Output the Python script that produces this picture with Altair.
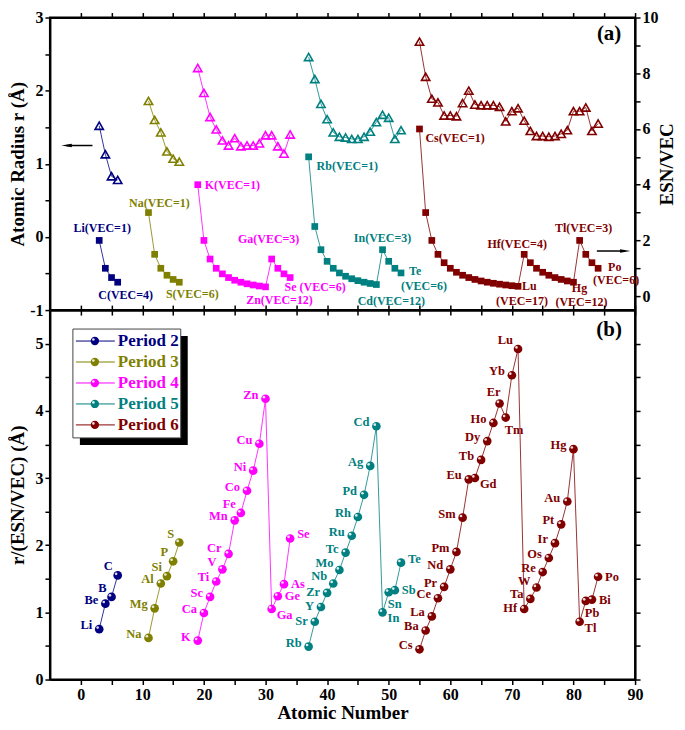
import altair as alt
import pandas as pd

FONT = "Liberation Serif"

periods = ["Period 2", "Period 3", "Period 4", "Period 5", "Period 6"]
colors = ["#000080", "#808000", "#FF00FF", "#008080", "#800000"]

# ---- data ----
p2_sym = ["Li", "Be", "B", "C"]
p2_z = [3, 4, 5, 6]
p2_r = [1.52, 1.13, 0.83, 0.78]
p2_ev = [2.0, 1.0, 0.667, 0.5]
p2_ratio = [0.75, 1.13, 1.23, 1.55]

p3_sym = ["Na", "Mg", "Al", "Si", "P", "S"]
p3_z = [11, 12, 13, 14, 15, 16]
p3_r = [1.86, 1.60, 1.43, 1.17, 1.07, 1.03]
p3_ev = [3.0, 1.5, 1.0, 0.75, 0.6, 0.5]
p3_ratio = [0.62, 1.06, 1.43, 1.54, 1.76, 2.04]

p4_sym = ["K", "Ca", "Sc", "Ti", "V", "Cr", "Mn", "Fe", "Co", "Ni", "Cu", "Zn",
          "Ga", "Ge", "As", "Se"]
p4_z = list(range(19, 35))
p4_r = [2.31, 1.97, 1.64, 1.47, 1.32, 1.25, 1.35, 1.24, 1.25, 1.25, 1.28, 1.39,
        1.39, 1.24, 1.14, 1.40]
p4_ev = [4.0, 2.0, 1.333, 1.0, 0.8, 0.667, 0.571, 0.5, 0.444, 0.4, 0.364, 0.333,
         1.333, 1.0, 0.8, 0.667]
p4_ratio = [0.58, 0.99, 1.23, 1.46, 1.64, 1.87, 2.37, 2.48, 2.81, 3.11, 3.51, 4.18,
            1.05, 1.24, 1.42, 2.10]

p5_sym = ["Rb", "Sr", "Y", "Zr", "Nb", "Mo", "Tc", "Ru", "Rh", "Pd", "Ag", "Cd",
          "In", "Sn", "Sb", "Te"]
p5_z = list(range(37, 53))
p5_r = [2.46, 2.16, 1.82, 1.61, 1.43, 1.37, 1.36, 1.34, 1.34, 1.37, 1.44, 1.57,
        1.67, 1.63, 1.34, 1.46]
p5_ev = [5.0, 2.5, 1.667, 1.25, 1.0, 0.833, 0.714, 0.625, 0.556, 0.5, 0.455, 0.417,
         1.667, 1.25, 1.0, 0.833]
p5_ratio = [0.49, 0.86, 1.08, 1.29, 1.43, 1.63, 1.89, 2.14, 2.42, 2.75, 3.18, 3.77,
            1.00, 1.30, 1.33, 1.74]

p6_sym = ["Cs", "Ba", "La", "Ce", "Pr", "Nd", "Pm", "Sm", "Eu", "Gd", "Tb", "Dy",
          "Ho", "Er", "Tm", "Yb", "Lu", "Hf", "Ta", "W", "Re", "Os", "Ir", "Pt",
          "Au", "Hg", "Tl", "Pb", "Bi", "Po"]
p6_z = list(range(55, 85))
p6_r = [2.67, 2.19, 1.89, 1.84, 1.66, 1.66, 1.65, 1.83, 2.00, 1.81, 1.80, 1.80,
        1.80, 1.78, 1.58, 1.72, 1.76, 1.59, 1.45, 1.38, 1.38, 1.37, 1.38, 1.41,
        1.46, 1.72, 1.72, 1.77, 1.45, 1.55]
p6_ev = [6.0, 3.0, 2.0, 1.5, 1.2, 1.0, 0.857, 0.75, 0.667, 0.6, 0.545, 0.5,
         0.462, 0.429, 0.4, 0.375, 0.353, 1.5, 1.2, 1.0, 0.857, 0.75, 0.667, 0.6,
         0.545, 0.5, 2.0, 1.5, 1.2, 1.0]
p6_ratio = [0.45, 0.73, 0.94, 1.21, 1.38, 1.64, 1.90, 2.41, 2.98, 3.00, 3.27, 3.55,
            3.82, 4.11, 3.90, 4.53, 4.92, 1.05, 1.20, 1.37, 1.60, 1.81, 2.03, 2.31,
            2.65, 3.43, 0.86, 1.17, 1.19, 1.53]

groups = [
    (p2_sym, p2_z, p2_r, p2_ev, p2_ratio),
    (p3_sym, p3_z, p3_r, p3_ev, p3_ratio),
    (p4_sym, p4_z, p4_r, p4_ev, p4_ratio),
    (p5_sym, p5_z, p5_r, p5_ev, p5_ratio),
    (p6_sym, p6_z, p6_r, p6_ev, p6_ratio),
]
rows = []
for per, (s, z, r, ev, ra) in zip(periods, groups):
    for i in range(len(s)):
        rows.append(dict(period=per, sym=s[i], z=z[i], r=r[i], ev=ev[i], ratio=ra[i]))
df = pd.DataFrame(rows)
color_of = dict(zip(periods, colors))

# label placement for panel (b) (style only): align, dx, dy
placements = {
    "L": ("right", -7, -4),
    "L1": ("right", -7, -1),
    "L5": ("right", -7, -5),
    "L6": ("right", -7, -6),
    "L7": ("right", -6, -7),
    "UL": ("right", -5, -9),
    "R": ("left", 7, 0),
    "RU": ("left", 7, -4),
    "RB": ("left", 5, 6),
    "BR": ("left", -1, 12),
    "U": ("center", -6, -11),
}
place_of = {"B": "UL", "C": "UL", "Si": "UL", "P": "UL", "S": "UL", "Fe": "UL",
            "V": "L7", "Cr": "L6",
            "Ga": "RB", "Ge": "R", "As": "R", "Se": "RU", "In": "RB",
            "Sn": "BR", "Sb": "R", "Te": "RU", "Gd": "RB", "Er": "U", "Tm": "BR",
            "Lu": "UL", "Hf": "L1", "Ta": "L5", "W": "L7", "Re": "L", "Os": "L",
            "Tl": "RB", "Pb": "BR", "Bi": "R", "Po": "R",
            "Sr": "L1", "Y": "L1", "Zr": "L1", "Nb": "L7", "Mo": "L7"}
df["place"] = [place_of.get(s, "L") for s in df.sym]

# ---- styling / layout ----
W, H1, H2 = 586, 293, 370
xs = alt.Scale(domain=[-5, 90], nice=False, zero=False)
ys_r = alt.Scale(domain=[-1, 3], nice=False, zero=False)
ys_ev = alt.Scale(domain=[-0.5, 10], nice=False, zero=False)
ys_b = alt.Scale(domain=[0, 5.5], nice=False, zero=False)
cscale = alt.Scale(domain=periods, range=colors)

INT_LABEL = "datum.value % 1 == 0 ? '' + datum.value : ''"
xvals = list(range(0, 95, 5))
ax_x_bottom_a = alt.Axis(values=xvals, labels=False, title=None, orient="bottom")
ax_x_top = alt.Axis(values=xvals, labels=False, title=None, orient="top")
ax_x_bottom_b = alt.Axis(values=xvals, title="Atomic Number", orient="bottom",
                         labelExpr="datum.value % 10 == 0 ? datum.label : ''",
                         labelOverlap=False, labelFlush=False, titlePadding=1)
ax_y_r = alt.Axis(values=[-1, -0.5, 0, 0.5, 1, 1.5, 2, 2.5, 3], title="Atomic Radius r (Å)",
                  labelExpr=INT_LABEL, labelOverlap=False,
                  labelFlush=False, titleX=-32, titleBaseline="middle")
ax_y_ev = alt.Axis(values=list(range(0, 11)), title="ESN/VEC", orient="right",
                   labelExpr="datum.value % 2 == 0 ? '' + datum.value : ''", labelOverlap=False,
                   labelFlush=False, titleAngle=270, titleX=31, titleBaseline="middle")
ax_y_b = alt.Axis(values=[0, 0.5, 1, 1.5, 2, 2.5, 3, 3.5, 4, 4.5, 5], title="r/(ESN/VEC) (Å)",
                  labelExpr=INT_LABEL, labelOverlap=False,
                  labelFlush=False, titleX=-32, titleBaseline="middle")
ax_y_b_right = alt.Axis(values=[0, 0.5, 1, 1.5, 2, 2.5, 3, 3.5, 4, 4.5, 5], title=None,
                        labels=False, orient="right")

base = alt.Chart(df)
col_nolegend = alt.Color("period:N", scale=cscale, legend=None)

# ================= panel (a) =================
xa = alt.X("z:Q", scale=xs, axis=ax_x_bottom_a)
ya = alt.Y("r:Q", scale=ys_r, axis=ax_y_r)

tri_line = base.mark_line(strokeWidth=0.8).encode(x=xa, y=ya, color=col_nolegend)
tri_pts = base.mark_point(shape="triangle-up", filled=False, size=70, strokeWidth=1.6,
                          opacity=1).encode(x=xa, y=ya, color=col_nolegend)

arrow_l = pd.DataFrame({"x1": [1.9], "x2": [-2.3], "y": [1.25]})
arr_l_rule = alt.Chart(arrow_l).mark_rule(color="black", strokeWidth=1.5).encode(
    x=alt.X("x1:Q", scale=xs, axis=ax_x_bottom_a), x2="x2:Q",
    y=alt.Y("y:Q", scale=ys_r, axis=ax_y_r))
arr_l_head = alt.Chart(arrow_l).mark_point(shape="M-1,0L1,-0.35L1,0.35Z", filled=True,
                                           size=110, color="black", opacity=1).encode(
    x=alt.X("x2:Q", scale=xs, axis=ax_x_bottom_a), y=alt.Y("y:Q", scale=ys_r, axis=ax_y_r))

lab_a = alt.Chart(pd.DataFrame({"t": ["(a)"]})).mark_text(
    font=FONT, fontSize=21, fontWeight="bold", align="center", baseline="middle").encode(
    x=alt.value(W - 26), y=alt.value(17), text="t:N")

left_group = alt.layer(tri_line, tri_pts, arr_l_rule, arr_l_head, lab_a)

xa_t = alt.X("z:Q", scale=xs, axis=ax_x_top)
yev = alt.Y("ev:Q", scale=ys_ev, axis=ax_y_ev)
sq_line = base.mark_line(strokeWidth=0.8).encode(x=xa_t, y=yev, color=col_nolegend)
sq_pts = base.mark_square(size=45, opacity=1).encode(x=xa_t, y=yev, color=col_nolegend)

arrow_r = pd.DataFrame({"x1": [83.8], "x2": [88.4], "y": [1.62]})
arr_r_rule = alt.Chart(arrow_r).mark_rule(color="black", strokeWidth=1.5).encode(
    x=alt.X("x1:Q", scale=xs, axis=ax_x_top), x2="x2:Q",
    y=alt.Y("y:Q", scale=ys_ev, axis=ax_y_ev))
arr_r_head = alt.Chart(arrow_r).mark_point(shape="M1,0L-1,-0.35L-1,0.35Z", filled=True,
                                           size=110, color="black", opacity=1).encode(
    x=alt.X("x2:Q", scale=xs, axis=ax_x_top), y=alt.Y("y:Q", scale=ys_ev, axis=ax_y_ev))

# annotations in panel (a): text, anchor element, dx, dy, align
ann_a = [
    ("Li(VEC=1)", "Li", 3, -12, "center"),
    ("C(VEC=4)", "C", 8, 13, "center"),
    ("Na(VEC=1)", "Na", 11, -10, "center"),
    ("S(VEC=6)", "S", 13, 12, "center"),
    ("K(VEC=1)", "K", 7, 0, "left"),
    ("Ga(VEC=3)", "Ga", -3, -20, "center"),
    ("Zn(VEC=12)", "Zn", 14, 13, "center"),
    ("Se (VEC=6)", "Se", 25, 9, "center"),
    ("Rb(VEC=1)", "Rb", 8, 9, "left"),
    ("In(VEC=3)", "In", 0, -12, "center"),
    ("Cd(VEC=12)", "Cd", 15, 16, "center"),
    ("Te", "Te", 8, -2, "left"),
    ("(VEC=6)", "Te", 23, 13, "center"),
    ("Cs(VEC=1)", "Cs", 6, 9, "left"),
    ("Hf(VEC=4)", "Hf", -7, -10, "center"),
    ("Lu", "Lu", 4, 0, "left"),
    ("(VEC=17)", "Lu", 4, 15, "center"),
    ("Tl(VEC=3)", "Tl", 4, -12, "center"),
    ("Hg", "Hg", 6, 6, "center"),
    ("(VEC=12)", "Hg", 8, 20, "center"),
    ("Po", "Po", 10, -1, "left"),
    ("(VEC=6)", "Po", 18, 12, "center"),
]
ann_layers = []
for text, el, dx, dy, al in ann_a:
    row = df[df.sym == el].iloc[0]
    d = pd.DataFrame({"z": [row.z], "ev": [row.ev], "t": [text]})
    ann_layers.append(
        alt.Chart(d).mark_text(font=FONT, fontSize=12, fontWeight="bold", dx=dx, dy=dy,
                               align=al, baseline="middle", color=color_of[row.period])
        .encode(x=xa_t, y=yev, text="t:N"))

right_group = alt.layer(sq_line, sq_pts, arr_r_rule, arr_r_head, *ann_layers)

top = alt.layer(left_group, right_group).resolve_scale(y="independent").resolve_axis(
    x="independent").properties(width=W, height=H1)

# ================= panel (b) =================
xb = alt.X("z:Q", scale=xs, axis=ax_x_bottom_b)
yb = alt.Y("ratio:Q", scale=ys_b, axis=ax_y_b)

b_line = base.mark_line(strokeWidth=0.8).encode(x=xb, y=yb, color=col_nolegend)
b_pts = base.mark_circle(size=75, opacity=1).encode(x=xb, y=yb, color=col_nolegend)
b_hi = base.mark_circle(size=7, color="white", opacity=0.85, xOffset=-1.6,
                        yOffset=-1.6).encode(x=xb, y=yb)

lab_layers = []
for key, (al, dx, dy) in placements.items():
    lab_layers.append(
        base.transform_filter(alt.datum.place == key).mark_text(
            font=FONT, fontSize=12.5, fontWeight="bold", align=al, baseline="middle",
            dx=dx, dy=dy).encode(x=xb, y=yb, text="sym:N", color=col_nolegend))

lab_b = alt.Chart(pd.DataFrame({"t": ["(b)"]})).mark_text(
    font=FONT, fontSize=21, fontWeight="bold", align="center", baseline="middle").encode(
    x=alt.value(W - 26), y=alt.value(20), text="t:N")

# hand-drawn legend box (Origin style, with drop shadow)
one = pd.DataFrame({"a": [0]})
LX, LY, LW, LH, SH = 23, 19, 108, 109, 7
leg_layers = [
    alt.Chart(one).mark_rect(color="black").encode(
        x=alt.value(LX + SH), x2=alt.value(LX + LW + SH),
        y=alt.value(LY + SH), y2=alt.value(LY + LH + SH)),
    alt.Chart(one).mark_rect(fill="white", stroke="#444", strokeWidth=1).encode(
        x=alt.value(LX), x2=alt.value(LX + LW), y=alt.value(LY), y2=alt.value(LY + LH)),
]
for i, (p, c) in enumerate(zip(periods, colors)):
    yy = LY + 12 + 21 * i
    leg_layers += [
        alt.Chart(one).mark_rule(color=c, strokeWidth=1).encode(
            x=alt.value(LX + 3), x2=alt.value(LX + 42), y=alt.value(yy)),
        alt.Chart(one).mark_circle(color=c, size=70, opacity=1).encode(
            x=alt.value(LX + 22), y=alt.value(yy)),
        alt.Chart(one).mark_circle(color="white", size=7, opacity=0.85).encode(
            x=alt.value(LX + 20.5), y=alt.value(yy - 1.5)),
        alt.Chart(pd.DataFrame({"t": [p]})).mark_text(
            font=FONT, fontSize=17, fontWeight="bold", align="left", baseline="middle",
            color=c).encode(x=alt.value(LX + 45), y=alt.value(yy), text="t:N"),
    ]

b_main = alt.layer(b_line, b_pts, b_hi, *lab_layers, lab_b, *leg_layers)
b_axes = base.mark_point(opacity=0).encode(
    x=alt.X("z:Q", scale=xs, axis=ax_x_top),
    y=alt.Y("ratio:Q", scale=ys_b, axis=ax_y_b_right))

bottom = alt.layer(b_main, b_axes).resolve_scale(y="independent").resolve_axis(
    x="independent").properties(width=W, height=H2)

chart = alt.vconcat(top, bottom, spacing=0, bounds="flush").properties(
    padding={"left": 0, "top": 0, "right": 0, "bottom": 0}
).configure_view(stroke="black", strokeWidth=2).configure_axis(
    labelFont=FONT, labelFontSize=16, labelFontWeight="bold", labelColor="black",
    titleFont=FONT, titleFontSize=19, titleFontWeight="bold", titleColor="black",
    domainColor="black", domainWidth=2, tickColor="black", tickWidth=1.5, tickSize=5,
    labelPadding=2, grid=False)

chart.save("out.html", embed_options={"renderer": "svg", "actions": False})
